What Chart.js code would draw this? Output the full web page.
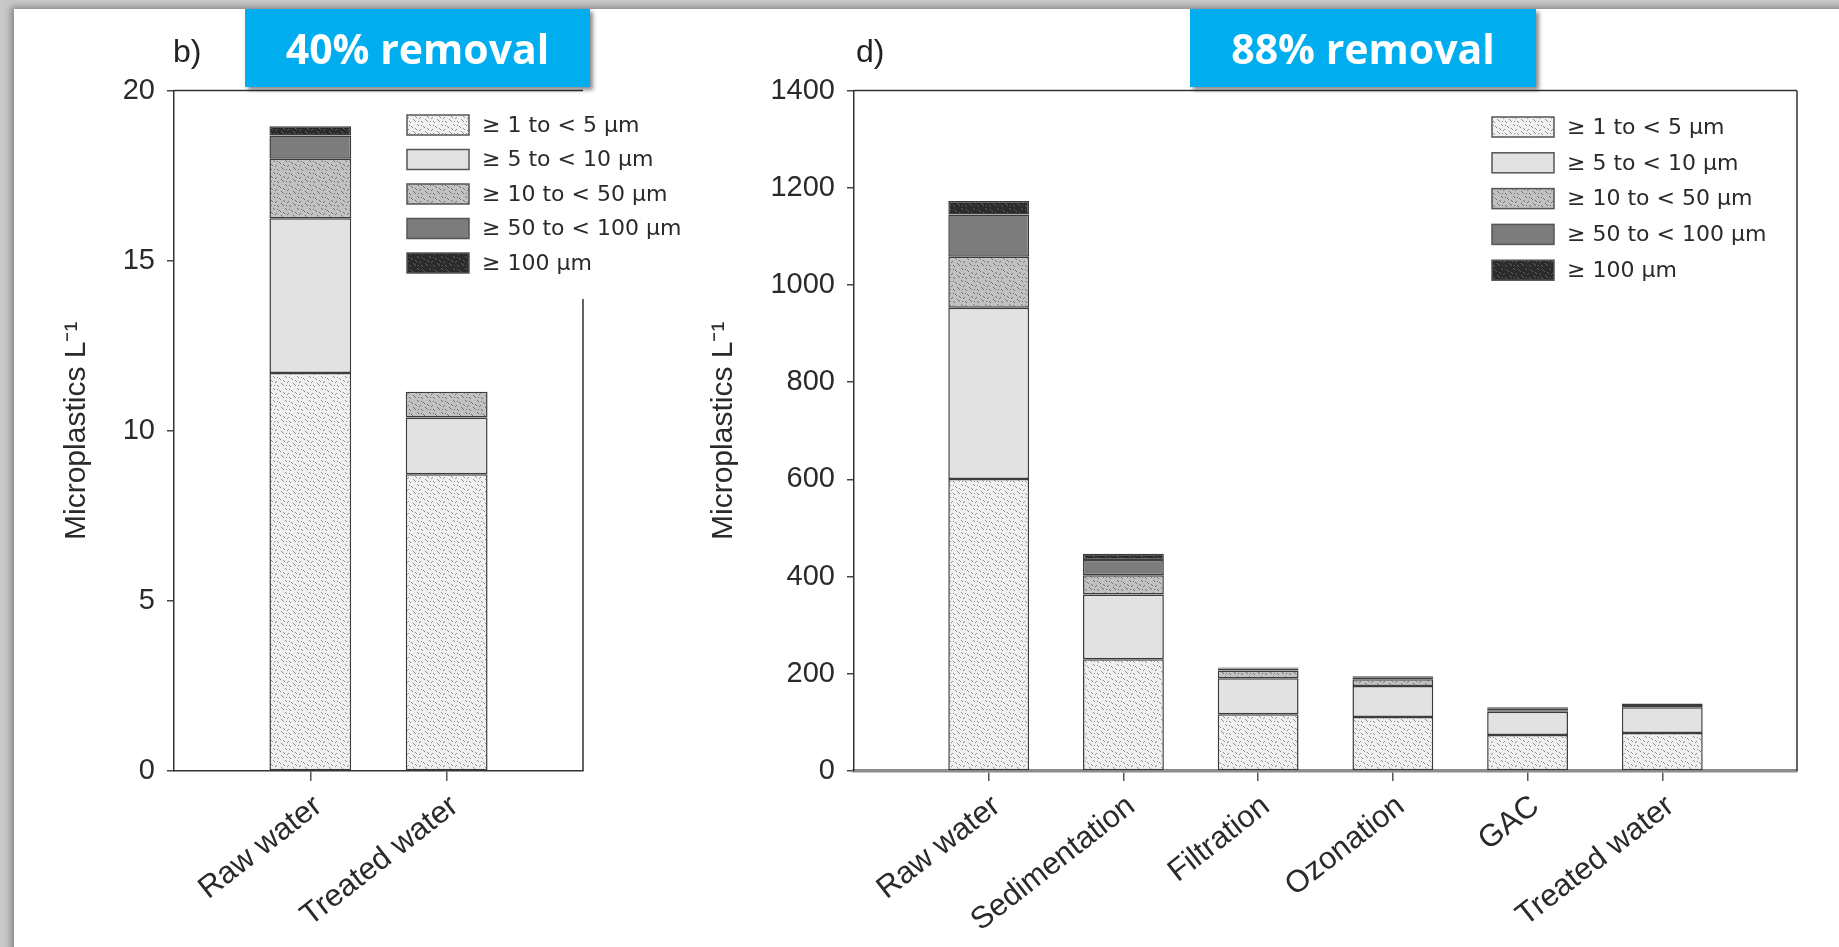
<!DOCTYPE html>
<html>
<head>
<meta charset="utf-8">
<script src="https://cdn.jsdelivr.net/npm/chart.js@4.4.1/dist/chart.umd.min.js"></script>
<style>
  html, body { margin: 0; padding: 0; }
  body { width: 1839px; height: 947px; background: #c9c9c9; position: relative; overflow: hidden; font-family: "Liberation Sans", Arial, sans-serif; }
  #sheet { position: absolute; left: 14px; top: 9px; width: 1840px; height: 950px; background: #fff; box-shadow: -3px -2px 7px rgba(0,0,0,0.35); }
  canvas { position: absolute; top: 0; }
  #chartB { left: 0; }
  #chartD { left: 640px; }
  .tag { position: absolute; top: 35px; font-size: 32px; line-height: 32px; color: #222; }
  .banner { position: absolute; top: 9px; height: 78px; background: #00aeef; color: #fff;
            font: bold 41px "Open Sans", sans-serif; display: flex; align-items: center; justify-content: center;
            box-shadow: 3px 3px 4px rgba(0,0,0,0.45); }
</style>
</head>
<body>
<div id="sheet"></div>
<canvas id="chartB" width="720" height="947"></canvas>
<canvas id="chartD" width="1199" height="947"></canvas>
<div class="tag" style="left:173px">b)</div>
<div class="tag" style="left:856px">d)</div>
<div class="banner" style="left:245px; width:345px">40% removal</div>
<div class="banner" style="left:1190px; width:346px">88% removal</div>
<script>
// size classes (legend)
const sizeClasses = ['≥ 1 to < 5 µm', '≥ 5 to < 10 µm', '≥ 10 to < 50 µm', '≥ 50 to < 100 µm', '≥ 100 µm'];

// panel b
const stagesB = ['Raw water', 'Treated water'];
const b1to5 = [11.7, 8.72];
const b5to10 = [4.55, 1.67];
const b10to50 = [1.75, 0.76];
const b50to100 = [0.68, 0];
const bOver100 = [0.27, 0];
const yTicksB = [0, 5, 10, 15, 20];

// panel d
const stagesD = ['Raw water', 'Sedimentation', 'Filtration', 'Ozonation', 'GAC', 'Treated water'];
const d1to5 = [601, 230, 117, 111, 74, 78];
const d5to10 = [352, 133, 74, 64, 48, 53];
const d10to50 = [105, 40, 16, 14, 3, 3];
const d50to100 = [87, 31, 4, 3, 3, 2];
const dOver100 = [28, 13, 2, 3, 3, 3];
const yTicksD = [0, 200, 400, 600, 800, 1000, 1200, 1400];

// stipple textures
const marks = [[1,1],[2,2],[6,0],[7,1],[9,4],[10,5],[3,6],[4,7],[0,9],[7,8],[8,9],[11,10],[5,11],[10,1],[1,5]];
function stipple(bg, ink) {
  const c = document.createElement('canvas');
  c.width = c.height = 12;
  const g = c.getContext('2d');
  g.fillStyle = bg;
  g.fillRect(0, 0, 12, 12);
  g.fillStyle = ink;
  marks.forEach(([x, y]) => g.fillRect(x, y, 1, 1));
  return g.createPattern(c, 'repeat');
}
const fills = [
  stipple('#f0f0f0', '#8e8e8e'),
  '#e2e2e2',
  stipple('#c2c2c2', '#707070'),
  '#7c7c7c',
  stipple('#2b2b2b', '#606060')
];

const txt = '#2a2a2a';

function makeSets(series) {
  return series.map((vals, i) => ({
    label: sizeClasses[i],
    data: vals.map((v, j) => ({ x: j + 1, y: v })),
    backgroundColor: fills[i],
    borderColor: '#3c3c3c',
    borderWidth: 1.5,
    borderSkipped: false,
    stack: 's',
    barPercentage: 0.6,
    categoryPercentage: 1
  }));
}

const legendPlugin = {
  id: 'sizeLegend',
  afterDraw(chart, args, o) {
    const ctx = chart.ctx;
    ctx.save();
    chart.data.datasets.forEach((ds, i) => {
      const y = o.top + i * o.step;
      ctx.fillStyle = ds.backgroundColor;
      ctx.fillRect(o.x, y - 10, 62, 20);
      ctx.lineWidth = 1.5;
      ctx.strokeStyle = '#555';
      ctx.strokeRect(o.x, y - 10, 62, 20);
      ctx.fillStyle = txt;
      ctx.font = '22px "DejaVu Sans", sans-serif';
      ctx.textBaseline = 'middle';
      ctx.fillText(ds.label, o.x + 75, y + 1);
    });
    ctx.restore();
  }
};

const framePlugin = {
  id: 'frame',
  afterDatasetsDraw(chart, args, o) {
    const { left, right, top, bottom } = chart.chartArea;
    const ctx = chart.ctx;
    ctx.save();
    ctx.strokeStyle = '#333';
    ctx.lineWidth = 1.5;
    ctx.beginPath();
    ctx.moveTo(left, top);
    ctx.lineTo(right, top);
    ctx.moveTo(right, o.rightFrom);
    ctx.lineTo(right, bottom);
    ctx.stroke();
    ctx.restore();
  }
};

function makeChart(id, stages, series, yTicks, yMax, cfg) {
  return new Chart(document.getElementById(id), {
    type: 'bar',
    data: { datasets: makeSets(series) },
    plugins: [legendPlugin, framePlugin],
    options: {
      responsive: false,
      animation: false,
      layout: { padding: { left: 0, top: 90.6, right: cfg.padRight, bottom: 0 } },
      plugins: {
        legend: { display: false },
        tooltip: { enabled: false },
        sizeLegend: cfg.legend,
        frame: { rightFrom: cfg.rightFrom }
      },
      scales: {
        x: {
          type: 'linear',
          offset: false,
          min: 0,
          max: stages.length + 1,
          afterBuildTicks: s => { s.ticks = stages.map((_, i) => ({ value: i + 1 })); },
          afterFit: s => { s.height = 176; },
          ticks: {
            autoSkip: false,
            minRotation: 38,
            maxRotation: 38,
            padding: 7,
            labelOffset: 8,
            color: txt,
            font: { family: '"Liberation Sans", Arial, sans-serif', size: 31 },
            callback: v => stages[Math.round(v) - 1]
          },
          grid: { offset: false, drawOnChartArea: false, drawTicks: true, tickLength: 10, color: '#555', lineWidth: 1.5 },
          border: { display: true, color: cfg.xAxisColor, width: cfg.xAxisWidth }
        },
        y: {
          stacked: true,
          min: 0,
          max: yMax,
          afterBuildTicks: s => { s.ticks = yTicks.map(v => ({ value: v })); },
          afterFit: s => { s.width = cfg.yWidth; },
          ticks: {
            padding: 12,
            color: txt,
            font: { family: '"Liberation Sans", Arial, sans-serif', size: 29 },
            callback: v => String(v)
          },
          grid: { drawOnChartArea: false, drawTicks: true, tickLength: 7, color: '#444', lineWidth: 1.5 },
          border: { display: true, color: '#333', width: 1.5 },
          title: {
            display: true,
            text: 'Microplastics L⁻¹',
            color: txt,
            font: { family: '"Liberation Sans", Arial, sans-serif', size: 30 },
            padding: { top: cfg.titlePad }
          }
        }
      }
    }
  });
}

makeChart('chartB', stagesB, [b1to5, b5to10, b10to50, b50to100, bOver100], yTicksB, 20, {
  yWidth: 174, padRight: 137, rightFrom: 299, titlePad: 59,
  xAxisColor: '#333', xAxisWidth: 1.5,
  legend: { x: 407, top: 125, step: 34.5 }
});

makeChart('chartD', stagesD, [d1to5, d5to10, d10to50, d50to100, dOver100], yTicksD, 1400, {
  yWidth: 214, padRight: 42, rightFrom: 90.6, titlePad: 66,
  xAxisColor: '#8c8c8c', xAxisWidth: 3.5,
  legend: { x: 852, top: 127, step: 35.8 }
});
</script>
</body>
</html>
